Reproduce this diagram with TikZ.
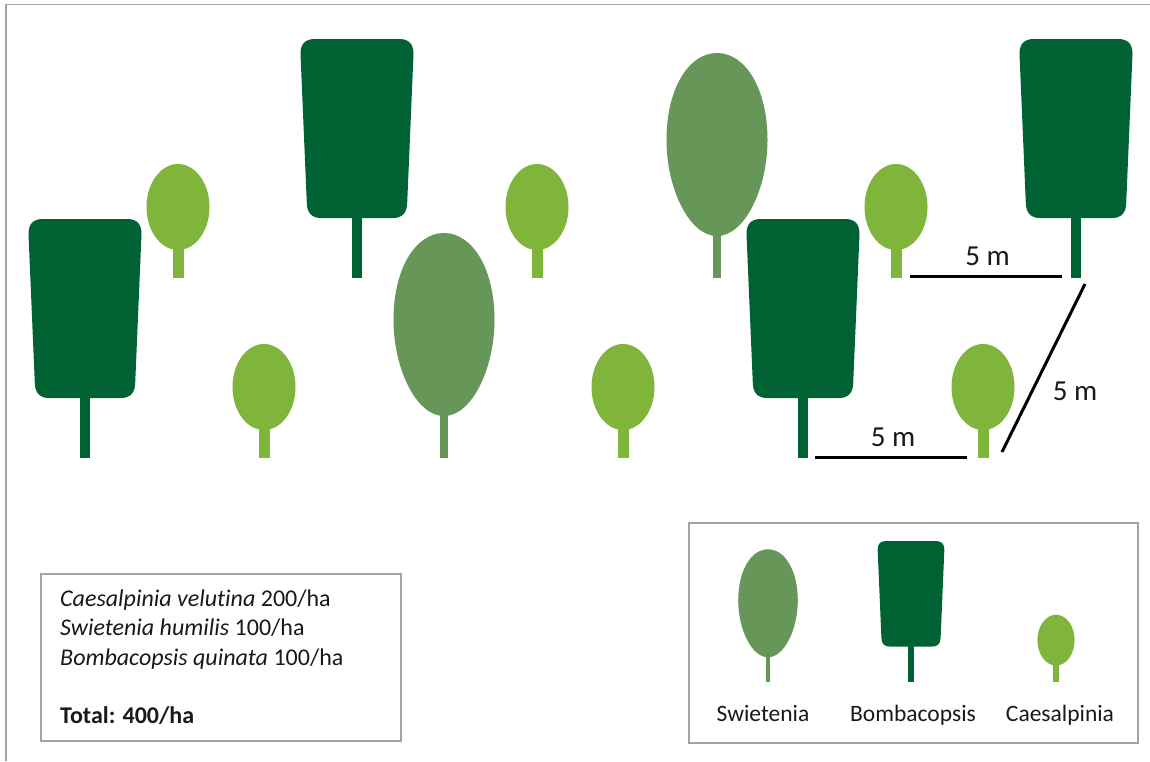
\documentclass[tikz,border=0pt]{standalone}
\usepackage{fontspec}
\setmainfont[RawFeature={-liga;-clig;-dlig}]{Carlito}
\definecolor{bombacol}{HTML}{006233}
\definecolor{swietcol}{HTML}{669658}
\definecolor{caesacol}{HTML}{80B53B}
\definecolor{framecol}{HTML}{A3A3A3}
\tikzset{
  x=1pt,y=-1pt,
  framebox/.style={draw=framecol,line width=2pt,fill=none},
  spacing/.style={draw=black,line width=3pt},
  lbl/.style={font=\fontsize{29}{32}\selectfont,inner sep=0pt,text=black!90},
  leglbl/.style={font=\fontsize{23.5}{26}\selectfont,inner sep=0pt,text=black!90,anchor=base},
  infotext/.style={font=\fontsize{24}{28}\selectfont,inner sep=0pt,anchor=base west,text=black!90},
}
% each tree is drawn from the foot of its trunk: shift x, shift y, scale
\newcommand{\bombatree}[3]{%
  \begin{scope}[shift={(#1,#2)},scale=#3]
    \fill[bombacol] (-5,-62) rectangle (5,0);
    \fill[bombacol] (-56.5,-224) .. controls (-56.5,-234) and (-52,-239) .. (-42,-239)
      -- (42,-239) .. controls (52,-239) and (56.5,-234) .. (56.5,-224)
      -- (50.2,-75) .. controls (50,-65) and (45,-60) .. (36,-60)
      -- (-36,-60) .. controls (-45,-60) and (-50,-65) .. (-50.2,-75) -- cycle;
  \end{scope}}
\newcommand{\swiettree}[3]{%
  \begin{scope}[shift={(#1,#2)},scale=#3]
    \fill[swietcol] (-4,-46) rectangle (4,0);
    \fill[swietcol] (0,-225) .. controls (28,-225) and (50.5,-190) .. (50.5,-138)
      .. controls (50.5,-90) and (28,-42) .. (0,-42)
      .. controls (-28,-42) and (-50.5,-90) .. (-50.5,-138)
      .. controls (-50.5,-190) and (-28,-225) .. (0,-225) -- cycle;
  \end{scope}}
\newcommand{\caesatree}[3]{%
  \begin{scope}[shift={(#1,#2)},scale=#3]
    \fill[caesacol] (-5.5,-32) rectangle (5.5,0);
    \fill[caesacol] (0,-71) ellipse [x radius=31.5,y radius=43];
  \end{scope}}
\begin{document}
\begin{tikzpicture}
\useasboundingbox (0,0) rectangle (1150,761);
\fill[white] (0,0) rectangle (1150,761);
% page frame
\coordinate (frameBL) at (6,761);
\coordinate (frameTL) at (6,4.5);
\coordinate (frameTR) at (1150,4.5);
\draw[draw=framecol,line width=1.6pt] (frameBL) -- (frameTL) -- (frameTR);
% plantation
\bombatree{357}{278}{1}
\bombatree{1076}{278}{1}
\bombatree{85}{458}{1}
\bombatree{803}{458}{1}
\swiettree{717}{278}{1}
\swiettree{444}{458}{1}
\caesatree{178}{278}{1}
\caesatree{537}{278}{1}
\caesatree{896}{278}{1}
\caesatree{264}{458}{1}
\caesatree{623}{458}{1}
\caesatree{983}{458}{1}
% spacing marks
\coordinate (sa1) at (910,276.3);
\coordinate (sa2) at (1062,276.3);
\coordinate (sb1) at (815,457);
\coordinate (sb2) at (967,457);
\coordinate (sc1) at (1085,284);
\coordinate (sc2) at (1002,452);
\draw[spacing] (sa1) -- (sa2);
\draw[spacing] (sb1) -- (sb2);
\draw[spacing] (sc1) -- (sc2);
\node[lbl] (ma) at (987.5,256) {5 m};
\node[lbl] (mb) at (893,437) {5 m};
\node[lbl] (mc) at (1075,391) {5 m};
% info box
\node[framebox,minimum width=360pt,minimum height=167pt,inner sep=0pt] (infobox) at (221,657.5) {};
\node[infotext] (i1) at (60,606) {\textit{Caesalpinia velutina} 200/ha};
\node[infotext] (i2) at (60,635.5) {\textit{Swietenia humilis} 100/ha};
\node[infotext] (i3) at (60,665.5) {\textit{Bombacopsis quinata} 100/ha};
\node[infotext] (i4) at (60,723) {\textbf{Total: 400/ha}};
% legend
\node[framebox,minimum width=449pt,minimum height=220.5pt,inner sep=0pt] (legendbox) at (913,632.75) {};
\swiettree{768}{682}{0.59}
\bombatree{911}{682}{0.59}
\caesatree{1056}{682}{0.59}
\node[leglbl] (l1) at (763,721) {Swietenia};
\node[leglbl] (l2) at (913,721) {Bombacopsis};
\node[leglbl] (l3) at (1060,721) {Caesalpinia};
\end{tikzpicture}
\end{document}
